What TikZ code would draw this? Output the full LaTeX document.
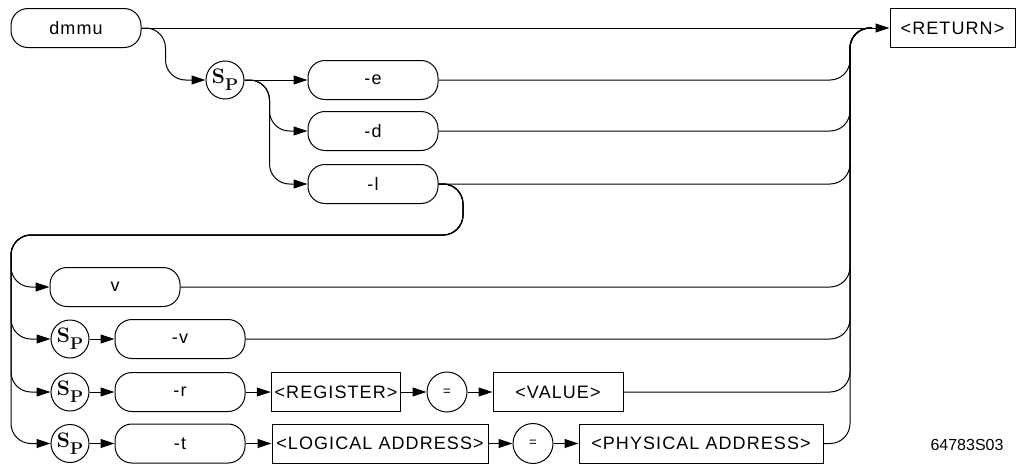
\documentclass[tikz,border=0pt]{standalone}
\usepackage{fontspec}
\usepackage{tikz}
\usetikzlibrary{arrows.meta}
\newfontfamily\hpfont[LetterSpace=6]{Liberation Sans}
\newfontfamily\lblfont{Liberation Sans}
\newcommand{\spsym}{\rmfamily\bfseries\raisebox{2pt}{\fontsize{21pt}{21pt}\selectfont S}\raisebox{-5pt}{\fontsize{17pt}{17pt}\selectfont P}}

\begin{document}
\begin{tikzpicture}[
        x=1pt, y=-1pt,
        kw/.style={rectangle, rounded corners=17pt, draw, minimum width=130pt, minimum height=39pt, font={\hpfont\fontsize{18pt}{20pt}\selectfont}},
        parm/.style={rectangle, draw, minimum height=39pt, font={\hpfont\fontsize{18pt}{20pt}\selectfont}},
        sp/.style={circle, draw, minimum size=38pt, inner sep=0pt},
        eqc/.style={circle, draw, minimum size=40pt, inner sep=0pt, font={\hpfont\fontsize{13pt}{14pt}\selectfont}},
        arr/.style={-{Triangle[length=14pt,width=9pt]}},
        bus/.style={rounded corners=20pt},
        line width=1pt
    ]
        \useasboundingbox (0,0) rectangle (1016,463);

        \node[kw]   (dmmu) at (76,28)    {dmmu};
        \node[parm, minimum width=125pt] (ret) at (952.5,28) {<RETURN>};

        \node[sp]   (sp1)  at (225,80)   {\spsym};
        \node[kw]   (e)    at (373,80)   {-e};
        \node[kw]   (d)    at (373,131)  {-d};
        \node[kw]   (l)    at (373,184)  {-l};

        \node[kw]   (v)    at (115,287)  {v};
        \node[sp]   (sp2)  at (70,339)   {\spsym};
        \node[kw]   (mv)   at (180,339)  {-v};
        \node[sp]   (sp3)  at (70,392)   {\spsym};
        \node[kw]   (mr)   at (180,392)  {-r};
        \node[parm, minimum width=128pt] (reg)  at (336,392) {<REGISTER>};
        \node[eqc]  (eq1)  at (447,392)  {=};
        \node[parm, minimum width=130pt] (val)  at (558,392) {<VALUE>};
        \node[sp]   (sp4)  at (70,443.5) {\spsym};
        \node[kw]   (mt)   at (180,443.5) {-t};
        \node[parm, minimum width=216pt] (log)  at (380,443.5) {<LOGICAL ADDRESS>};
        \node[eqc]  (eq2)  at (533,443.5) {=};
        \node[parm, minimum width=244pt] (phys) at (701,443.5) {<PHYSICAL ADDRESS>};

        \node[font={\lblfont\fontsize{16pt}{18pt}\selectfont}] (code) at (967,445) {64783S03};

        \coordinate (join)  at (850,28);
        \coordinate (joinr) at (872,28);
        \coordinate (loopR) at (463,235);
        \coordinate (loopL) at (11,235);

        \draw[arr] (dmmu) -- (ret);
        \draw[arr, bus] (dmmu.east) -- ++(24,0) |- (sp1.west);

        \draw[arr] (sp1) -- (e);
        \draw[arr, bus] (sp1.east) -- ++(25,0) |- (d.west);
        \draw[arr, bus] (sp1.east) -- ++(25,0) |- (l.west);

        % loop back to the lower choices
        \foreach \t in {v, sp2, sp3, sp4}
            \draw[arr, bus] (l.east) -| (loopR) -- (loopL) |- (\t.west);

        \draw[arr] (sp2) -- (mv);
        \draw[arr] (sp3) -- (mr);
        \draw[arr] (mr) -- (reg);
        \draw[arr] (reg) -- (eq1);
        \draw[arr] (eq1) -- (val);
        \draw[arr] (sp4) -- (mt);
        \draw[arr] (mt) -- (log);
        \draw[arr] (log) -- (eq2);
        \draw[arr] (eq2) -- (phys);

        % everything joins the <RETURN> line
        \foreach \s in {e, d, l, v, mv, val, phys}
            \draw[bus] (\s.east) -| (join) -- (joinr);
    \end{tikzpicture}
\end{document}
